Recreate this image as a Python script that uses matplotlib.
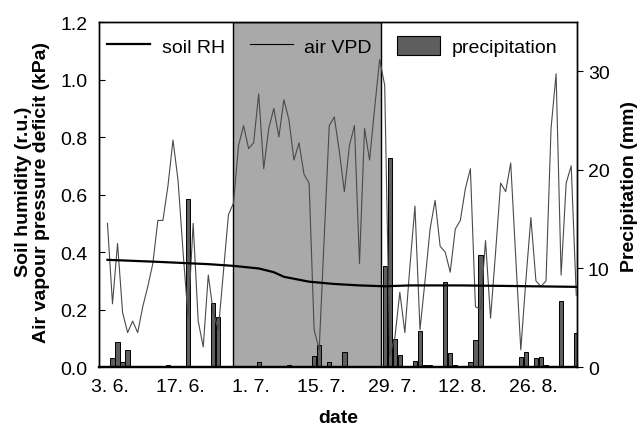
import matplotlib
matplotlib.use("Agg")
import matplotlib.pyplot as plt
import numpy as np
from matplotlib.lines import Line2D
from matplotlib.patches import Patch

plt.rcParams["font.family"] = ["Liberation Sans", "DejaVu Sans"]

# days counted from 1 June; daily readings start at noon of 2 June
FIRST_DAY = 1.5

tick_days = [2, 16, 30, 44, 58, 72, 86]
tick_labels = ["3. 6.", "17. 6.", "1. 7.", "15. 7.", "29. 7.", "12. 8.", "26. 8."]

# shaded dry period
dry_start, dry_end = 26.4, 55.7

air_vpd = [
    0.50, 0.22, 0.43, 0.19, 0.12, 0.16, 0.12, 0.21, 0.28, 0.36,
    0.51, 0.51, 0.63, 0.79, 0.65, 0.40, 0.17, 0.50, 0.16, 0.07,
    0.32, 0.19, 0.13, 0.33, 0.53, 0.57, 0.77, 0.84, 0.76, 0.78,
    0.95, 0.69, 0.83, 0.90, 0.80, 0.93, 0.86, 0.72, 0.78, 0.67,
    0.64, 0.13, 0.06, 0.45, 0.84, 0.87, 0.75, 0.61, 0.77, 0.84,
    0.36, 0.83, 0.72, 0.90, 1.07, 0.98, 0.04, 0.10, 0.26, 0.12,
    0.35, 0.56, 0.13, 0.30, 0.48, 0.58, 0.42, 0.40, 0.33, 0.48,
    0.51, 0.62, 0.69, 0.21, 0.20, 0.44, 0.17, 0.40, 0.64, 0.61,
    0.71, 0.38, 0.06, 0.30, 0.52, 0.30, 0.28, 0.30, 0.83, 1.02,
    0.32, 0.64, 0.70, 0.25,
]

soil_index = [0, 10, 20, 25, 30, 33, 35, 40, 45, 50, 55, 60, 70, 80, 93]
soil_rh = [0.373, 0.366, 0.358, 0.352, 0.343, 0.330, 0.314, 0.297,
           0.289, 0.284, 0.281, 0.284, 0.284, 0.282, 0.279]

rain_index = [1, 2, 3, 4, 12, 16, 21, 22, 30, 36, 41, 42, 44, 47, 55, 56,
              57, 58, 61, 62, 63, 64, 67, 68, 69, 72, 73, 74, 82, 83, 85,
              86, 87, 90, 93]
rain_mm = [0.9, 2.5, 0.5, 1.7, 0.2, 17.1, 6.5, 5.1, 0.5, 0.2, 1.1, 2.2, 0.5,
           1.5, 10.3, 21.2, 2.8, 1.2, 0.6, 3.7, 0.2, 0.2, 8.6, 1.4, 0.2, 0.5,
           2.7, 11.4, 1.0, 1.5, 0.9, 1.0, 0.2, 6.7, 3.5]

vpd_x = FIRST_DAY + np.arange(len(air_vpd))
soil_x = FIRST_DAY + np.array(soil_index)
rain_x = FIRST_DAY + np.array(rain_index)

fig = plt.figure(figsize=(6.38, 4.27), dpi=100)
ax = fig.add_axes([0.155, 0.138, 0.749, 0.808])
ax2 = ax.twinx()
ax.set_zorder(ax2.get_zorder() + 1)
ax.patch.set_visible(False)

ax2.axvspan(dry_start, dry_end, facecolor="#a9a9a9", edgecolor="black", linewidth=1.0, zorder=0)
ax2.bar(rain_x, rain_mm, width=0.85, color="#5e5e5e", edgecolor="black", linewidth=0.7, zorder=2)

ax.plot(vpd_x, air_vpd, color="#4a4a4a", linewidth=0.8)
ax.plot(soil_x, soil_rh, color="black", linewidth=1.6)

ax.set_xlim(-0.2, 94.6)
ax.set_ylim(0, 1.2)
ax2.set_ylim(0, 35)

ax.set_xticks(tick_days)
ax.set_xticklabels(tick_labels)
ax.set_yticks([0, 0.2, 0.4, 0.6, 0.8, 1.0, 1.2])
ax.set_yticklabels(["0.0", "0.2", "0.4", "0.6", "0.8", "1.0", "1.2"])
ax2.set_yticks([0, 10, 20, 30])

ax.tick_params(axis="x", length=0, pad=8, labelsize=14)
ax.tick_params(axis="y", direction="in", length=4, pad=8, labelsize=14)
ax2.tick_params(axis="y", direction="out", length=4, pad=4, labelsize=14)

for a in (ax, ax2):
    for s in a.spines.values():
        s.set_linewidth(1.0)
    a.spines["bottom"].set_linewidth(1.6)

ax.set_xlabel("date", fontsize=14, fontweight="bold")
ax.xaxis.set_label_coords(0.5, -0.122)
ax.set_ylabel("Soil humidity (r.u.)\nAir vapour pressure deficit (kPa)",
              fontsize=14, fontweight="bold", linespacing=1.05)
ax.yaxis.set_label_coords(-0.1025, 0.51)
ax2.set_ylabel("Precipitation (mm)", fontsize=14, fontweight="bold")
ax2.yaxis.set_label_coords(1.092, 0.525)

handles = [
    Line2D([], [], color="black", linewidth=1.6),
    Line2D([], [], color="black", linewidth=0.8),
    Patch(facecolor="#5e5e5e", edgecolor="black", linewidth=0.8),
]
ax.legend(handles, ["soil RH", "air VPD", "precipitation"], loc="center left",
          bbox_to_anchor=(0.005, 0.93), ncol=3, frameon=False, fontsize=14,
          handlelength=2.2, handleheight=1.1, handletextpad=0.6,
          columnspacing=1.3, borderaxespad=0.0, borderpad=0.3)

fig.savefig("out.png", dpi=100)
